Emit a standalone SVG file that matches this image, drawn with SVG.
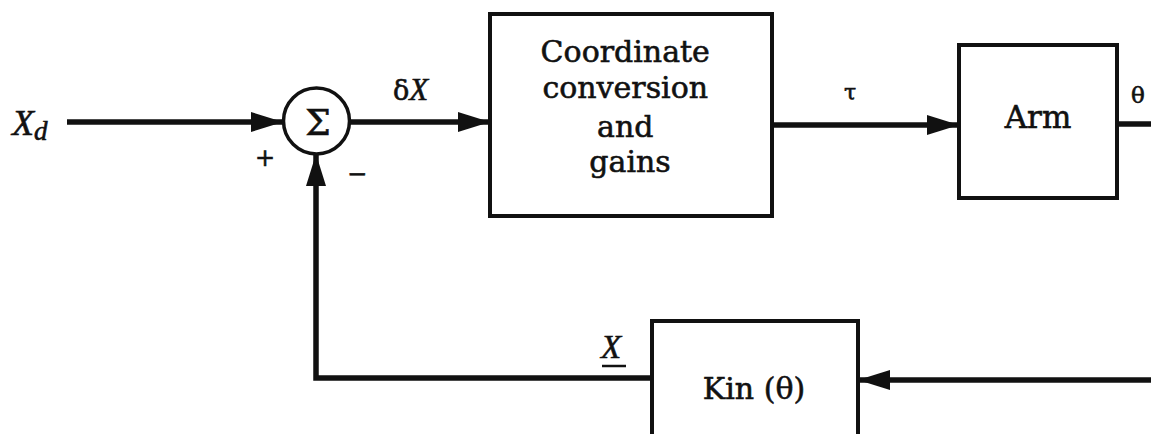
<svg xmlns="http://www.w3.org/2000/svg" width="1151" height="434" viewBox="0 0 1151 434">
<defs>
<style>
.box{fill:#fff;stroke:#111;stroke-width:4}
.wire{fill:none;stroke:#111;stroke-width:5.5}
.t{font-family:"DejaVu Serif","Liberation Serif",serif;fill:#111;stroke:#111;stroke-width:0.6}
.it{font-family:"Liberation Serif","DejaVu Serif",serif;font-style:italic;fill:#111;stroke:#111;stroke-width:0.6}
</style>
<marker id="ah" markerUnits="userSpaceOnUse" markerWidth="34" markerHeight="24" refX="32" refY="12" orient="auto">
<path d="M0,2 L32,12 L0,22 Z" fill="#111"/>
</marker>
</defs>
<rect width="1151" height="434" fill="#fff"/>
<g id="connectors">
<line class="wire" x1="67" y1="122" x2="283" y2="122" marker-end="url(#ah)"/>
<line class="wire" x1="350" y1="122" x2="490" y2="122" marker-end="url(#ah)"/>
<line class="wire" x1="772" y1="125" x2="959" y2="125" marker-end="url(#ah)"/>
<line class="wire" x1="1117" y1="124" x2="1151" y2="124"/>
<line class="wire" x1="1151" y1="380" x2="858" y2="380" marker-end="url(#ah)"/>
<polyline class="wire" points="652,378 316,378 316,154" marker-end="url(#ah)"/>
</g>
<g id="labels">
<text class="it" x="12" y="135" font-size="36">X<tspan font-size="27" dy="5">d</tspan></text>
<text class="t" x="265" y="166" font-size="24" text-anchor="middle">+</text>
<text class="t" x="357" y="182" font-size="24" text-anchor="middle">−</text>
<text class="t" x="393" y="100" font-size="27">δ<tspan class="it" font-size="31">X</tspan></text>
<text class="t" x="844" y="100" font-size="22">τ</text>
<text class="t" x="1131" y="103" font-size="23">θ</text>
<text class="it" x="601" y="358" font-size="33">X</text>
<line x1="602" y1="366" x2="626" y2="366" stroke="#111" stroke-width="2.5"/>
</g>
<g id="sum">
<circle cx="316.5" cy="121" r="33" fill="#fff" stroke="#111" stroke-width="3.5"/>
<text class="t" x="318" y="135" font-size="36" text-anchor="middle">Σ</text>
</g>
<g id="coord">
<rect class="box" x="490" y="14" width="282" height="202"/>
<text class="t" font-size="30" text-anchor="middle">
<tspan x="630" y="62">Coordinate</tspan>
<tspan x="630" y="98">conversion</tspan>
<tspan x="630" y="137">and</tspan>
<tspan x="630" y="172">gains</tspan>
</text>
</g>
<g id="arm">
<rect class="box" x="959" y="45" width="158" height="153"/>
<text class="t" x="1038" y="128" font-size="31" text-anchor="middle">Arm</text>
</g>
<g id="kin">
<rect class="box" x="652" y="321" width="206" height="130"/>
<text class="t" x="754" y="399" font-size="30" text-anchor="middle">Kin (θ)</text>
</g>
</svg>
